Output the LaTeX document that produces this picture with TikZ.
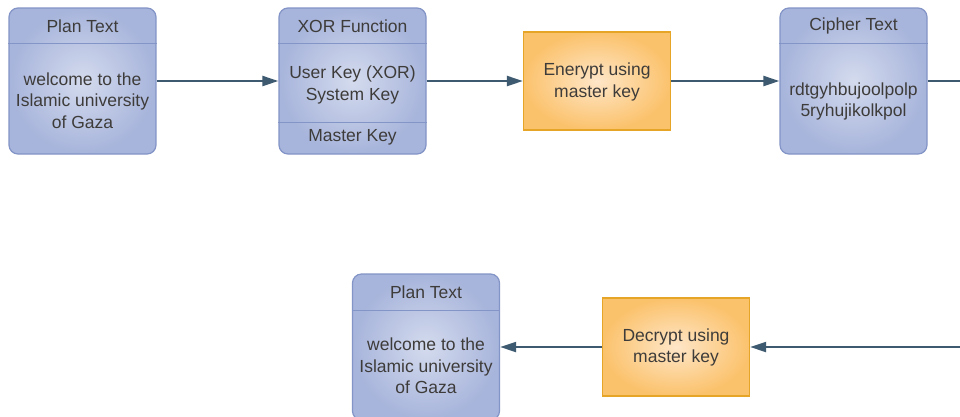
\documentclass[tikz,border=0pt]{standalone}
\usepackage{fontspec}
\setmainfont{Liberation Sans}
\usetikzlibrary{arrows.meta}
\definecolor{txt}{HTML}{3E3C3A}
\definecolor{bfillA}{HTML}{D4DBEE}
\definecolor{bfillB}{HTML}{A7B4DB}
\definecolor{bline}{HTML}{8394C6}
\definecolor{ofillA}{HTML}{FEE6C8}
\definecolor{ofillB}{HTML}{FBC26C}
\definecolor{oline}{HTML}{E6A526}
\definecolor{arr}{HTML}{3E5A70}
\begin{document}
\begin{tikzpicture}[x=1pt,y=-1pt,
  font=\fontsize{17.5}{21.5}\selectfont, text=txt,
  bluebox/.style={draw=bline, line width=1.2pt, rounded corners=9pt, inner color=bfillA, outer color=bfillB, minimum width=147pt, minimum height=146pt, inner sep=0pt},
  orangebox/.style={draw=oline, line width=1.2pt, inner color=ofillA, outer color=ofillB, minimum width=147pt, minimum height=98pt, inner sep=0pt},
  divider/.style={draw=bline, line width=1.2pt},
  txtnode/.style={align=center, inner sep=0pt, text=txt},
  conn/.style={draw=arr, line width=2pt, -{Triangle[length=16pt,width=10pt]}}]
\useasboundingbox (0,0) rectangle (960,416);
\clip (0,0) rectangle (960,416);
\fill[white] (0,0) rectangle (960,416);

% boxes
\node[bluebox] (p1) at (82.5,81) {};
\node[bluebox] (xor) at (352.5,81) {};
\node[orangebox] (enc) at (597,81) {};
\node[bluebox] (cip) at (853.5,81) {};
\node[bluebox] (p2) at (426,347) {};
\node[orangebox] (dec) at (676,347) {};

% dividers
\draw[divider] ([yshift=-36pt]p1.north west) -- ([yshift=-36pt]p1.north east);
\draw[divider] ([yshift=-36pt]xor.north west) -- ([yshift=-36pt]xor.north east);
\draw[divider] ([yshift=32pt]xor.south west) -- ([yshift=32pt]xor.south east);
\draw[divider] ([yshift=-36pt]cip.north west) -- ([yshift=-36pt]cip.north east);
\draw[divider] ([yshift=-37pt]p2.north west) -- ([yshift=-37pt]p2.north east);

% texts
\node[txtnode] (p1t) at (82.5,26) {Plan Text};
\node[txtnode] (p1b) at (82.5,100.5) {welcome to the\\Islamic university\\of Gaza};
\node[txtnode] (xort) at (352.5,26) {XOR Function};
\node[txtnode] (xorb) at (352.5,85) {User Key (XOR)\\System Key};
\node[txtnode] (xorm) at (352.5,137) {Master Key};
\node[txtnode] (enct) at (597,82) {Enerypt using\\master key};
\node[txtnode] (cipt) at (853.5,26) {Cipher Text};
\node[txtnode] (cipb) at (853.5,101.5) {rdtgyhbujoolpolp\\5ryhujikolkpol};
\node[txtnode] (p2t) at (426,292) {Plan Text};
\node[txtnode] (p2b) at (426,366) {welcome to the\\Islamic university\\of Gaza};
\node[txtnode] (dect) at (676,347.5) {Decrypt using\\master key};

% connectors
\coordinate (outr) at (960,81);
\coordinate (inr) at (960,347);
\draw[conn] (p1) -- (xor);
\draw[conn] (xor) -- (enc);
\draw[conn] (enc) -- (cip);
\draw[draw=arr, line width=2pt] (cip.east) -- (outr);
\draw[conn] (inr) -- (dec);
\draw[conn] (dec) -- (p2);
\end{tikzpicture}
\end{document}
